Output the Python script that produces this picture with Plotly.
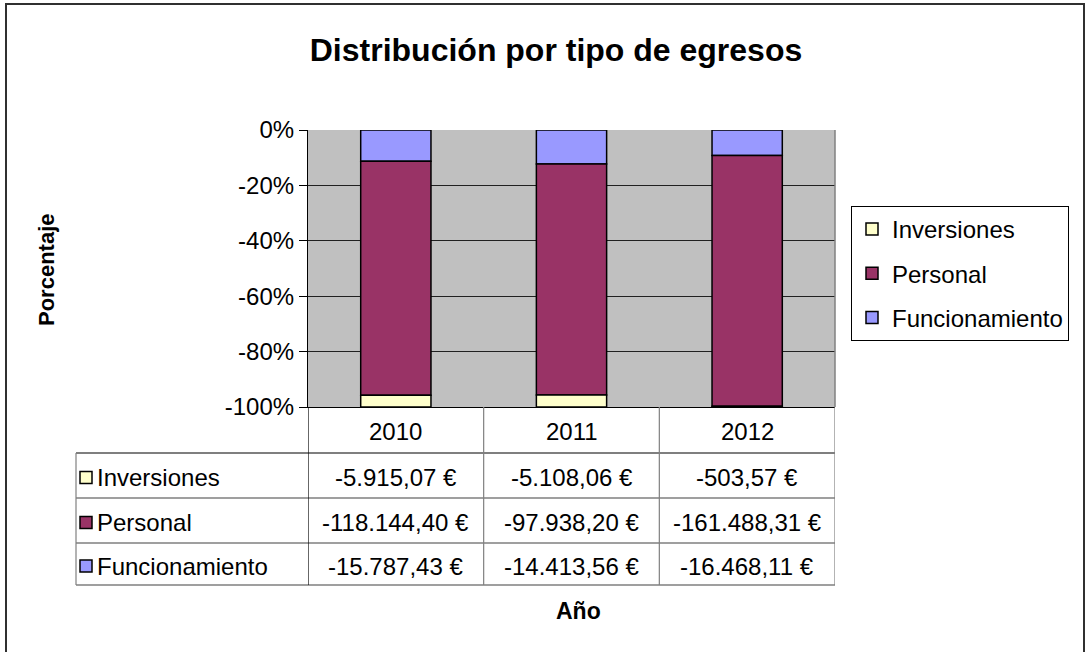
import numpy as np
import plotly.graph_objects as go

# ---------------- data ----------------
years = ["2010", "2011", "2012"]
inversiones = [-5915.07, -5108.06, -503.57]
personal = [-118144.40, -97938.20, -161488.31]
funcionamiento = [-15787.43, -14413.56, -16468.11]
y_tick_vals = [0, -20, -40, -60, -80, -100]
y_tick_text = ["0%", "-20%", "-40%", "-60%", "-80%", "-100%"]

series_names = ["Funcionamiento", "Personal", "Inversiones"]
series_values = [funcionamiento, personal, inversiones]
series_colors = ["#9999FF", "#993366", "#FFFFCC"]
legend_ranks = [3, 2, 1]

# ---------------- helpers ----------------
W, H = 1088, 652
FONT = "Arial, Liberation Sans, sans-serif"


def px(x):
    return x / W


def py(y):
    return 1 - y / H


def fmt_eur(v):
    s = f"{v:,.2f}"
    s = s.replace(",", "X").replace(".", ",").replace("X", ".")
    return s + " €"


totals = np.abs(np.array(series_values)).sum(axis=0)
x_idx = list(range(len(years)))

fig = go.Figure()
for name, vals, col, rk in zip(series_names, series_values, series_colors, legend_ranks):
    pct = np.array(vals) / totals * 100
    fig.add_trace(go.Bar(
        x=x_idx, y=pct, name=name, legendgroup=name, legendrank=rk,
        marker=dict(color=col, line=dict(color="black", width=1.5)),
    ))

plot_l, plot_r, plot_t, plot_b = 308, 835, 130, 407

shapes = []
annotations = []

# plot area right border (grey)
shapes.append(dict(type="line", xref="paper", yref="paper",
                   x0=px(plot_r), x1=px(plot_r), y0=py(plot_t), y1=py(plot_b),
                   line=dict(color="#808080", width=1.5)))

# outer chart frame
shapes.append(dict(type="rect", xref="paper", yref="paper",
                   x0=px(6), x1=px(1084), y0=py(4), y1=py(700),
                   line=dict(color="#303030", width=2), fillcolor="rgba(0,0,0,0)"))

# ---------------- data table ----------------
tbl_left = 76
row_lines = [453, 498, 543, 585]
for i, yy in enumerate(row_lines):
    shapes.append(dict(type="line", xref="paper", yref="paper",
                       x0=px(tbl_left), x1=px(plot_r), y0=py(yy), y1=py(yy),
                       line=dict(color="black" if i == 0 else "#404040", width=1.2)))
for k, xb in enumerate([-0.5, 0.5, 1.5, 2.5]):
    shapes.append(dict(type="line", xref="x", yref="paper",
                       x0=xb, x1=xb, y0=py(plot_b), y1=py(row_lines[-1]),
                       line=dict(color="black" if k == 0 else "#808080", width=1.2)))
shapes.append(dict(type="line", xref="paper", yref="paper",
                   x0=px(tbl_left), x1=px(tbl_left), y0=py(row_lines[0]), y1=py(row_lines[-1]),
                   line=dict(color="#808080", width=1.2)))

# header years
for i, yr in enumerate(years):
    annotations.append(dict(x=i, y=py(431), xref="x", yref="paper", text=yr,
                            showarrow=False, xanchor="center", yanchor="middle",
                            font=dict(family=FONT, size=24, color="black")))

# rows (display order: Inversiones, Personal, Funcionamiento)
table_rows = list(zip(series_names, series_values, series_colors))[::-1]
for r, (name, vals, col) in enumerate(table_rows):
    yc = (row_lines[r] + row_lines[r + 1]) / 2 + 2
    shapes.append(dict(type="rect", xref="paper", yref="paper",
                       x0=px(80), x1=px(92), y0=py(yc - 6), y1=py(yc + 6),
                       fillcolor=col, line=dict(color="black", width=1.5)))
    annotations.append(dict(x=px(95), y=py(yc), xref="paper", yref="paper", text=name,
                            showarrow=False, xanchor="left", yanchor="middle",
                            font=dict(family=FONT, size=24, color="black")))
    for i, v in enumerate(vals):
        annotations.append(dict(x=i, y=py(yc), xref="x", yref="paper", text=fmt_eur(v),
                                showarrow=False, xanchor="center", yanchor="middle",
                                font=dict(family=FONT, size=24, color="black")))

# axis titles
annotations.append(dict(x=px(46), y=py(270), xref="paper", yref="paper", text="<b>Porcentaje</b>",
                        textangle=-90, showarrow=False, xanchor="center", yanchor="middle",
                        font=dict(family=FONT, size=22, color="black")))
annotations.append(dict(x=px(578), y=py(611), xref="paper", yref="paper", text="<b>Año</b>",
                        showarrow=False, xanchor="center", yanchor="middle",
                        font=dict(family=FONT, size=23, color="black")))

fig.update_layout(
    width=W, height=H,
    margin=dict(l=0, r=0, t=0, b=0, pad=0, autoexpand=False),
    paper_bgcolor="white",
    plot_bgcolor="#C0C0C0",
    barmode="relative",
    bargap=0.6,
    showlegend=True,
    title=dict(text="<b>Distribución por tipo de egresos</b>", x=px(556), y=py(50),
               xref="paper", yref="paper",
               xanchor="center", yanchor="middle",
               font=dict(family=FONT, size=32, color="black")),
    xaxis=dict(domain=[px(plot_l), px(plot_r)], range=[-0.5, 2.5],
               showticklabels=False, ticks="", showline=True, linecolor="black", linewidth=1.2,
               showgrid=False, zeroline=False),
    yaxis=dict(domain=[py(plot_b), py(plot_t)], range=[-100, 0],
               tickvals=y_tick_vals, ticktext=y_tick_text,
               ticks="outside", ticklen=8, tickcolor="black", tickwidth=1.2,
               showline=True, linecolor="black", linewidth=1.2,
               showgrid=True, gridcolor="#202020", gridwidth=1.2, zeroline=False,
               tickfont=dict(family=FONT, size=24, color="black")),
    legend=dict(x=px(851), y=py(206), xanchor="left", yanchor="top",
                traceorder="grouped", tracegroupgap=10,
                bordercolor="black", borderwidth=1, bgcolor="white",
                font=dict(family=FONT, size=24, color="black")),
    shapes=shapes,
    annotations=annotations,
)

fig.write_html("out.html", config={"displayModeBar": False},
               post_script="document.body.style.margin='0px';document.body.style.overflow='hidden';")
